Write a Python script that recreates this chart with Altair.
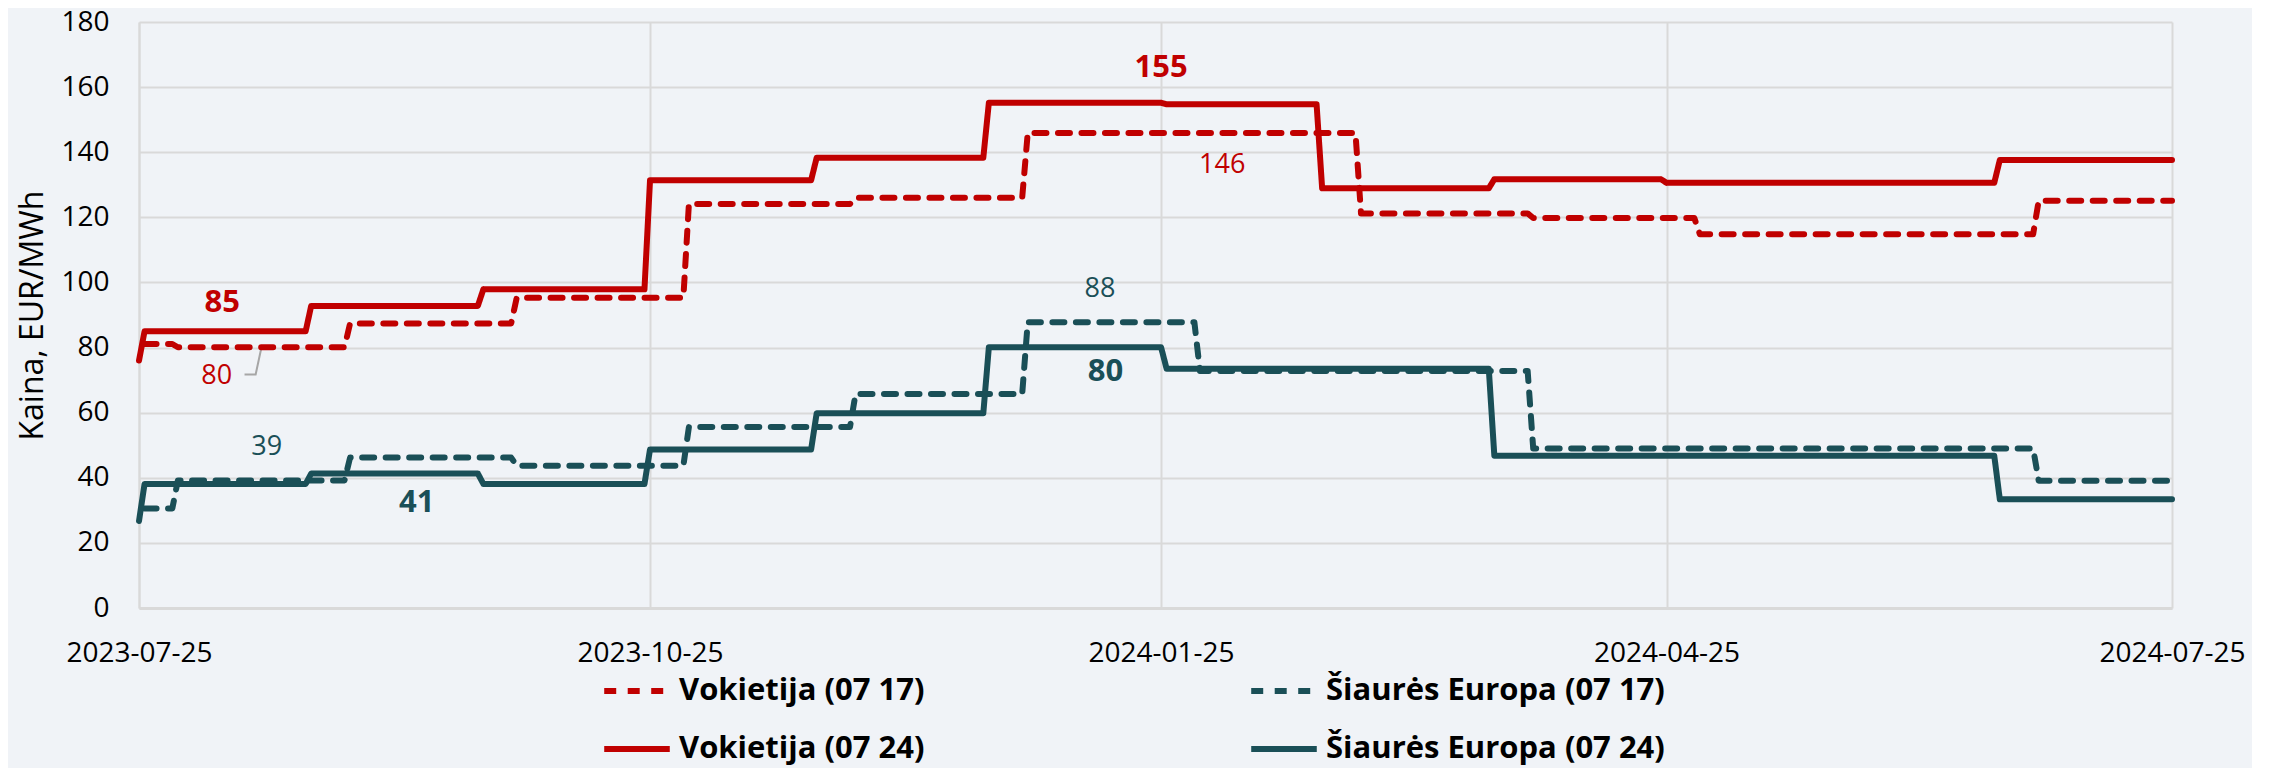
import altair as alt
import pandas as pd

RED = "#C00000"
TEAL = "#1A4F57"
GRID = "#D9D9D9"
BG = "#F0F3F7"
FONT = "Open Sans"

series_names = ["Vokietija (07 17)", "Šiaurės Europa (07 17)",
                "Vokietija (07 24)", "Šiaurės Europa (07 24)"]
series_colors = [RED, TEAL, RED, TEAL]
series_dashes = [[12, 11.5], [12, 11.5], [1, 0], [1, 0]]
legend_order = [series_names[0], series_names[2], series_names[1], series_names[3]]

# Vokietija (07 24)
de24_dates = ["2023-07-25", "2023-07-26", "2023-08-24", "2023-08-25", "2023-09-24", "2023-09-25",
              "2023-10-24", "2023-10-25", "2023-11-23", "2023-11-24", "2023-12-24", "2023-12-25",
              "2024-01-25", "2024-01-26", "2024-02-22", "2024-02-23", "2024-03-24", "2024-03-25",
              "2024-04-24", "2024-04-25", "2024-06-23", "2024-06-24", "2024-07-25"]
de24_values = [76, 85, 85, 92.8, 92.8, 97.9,
               97.9, 131.4, 131.4, 138.3, 138.3, 155.2,
               155.2, 154.7, 154.7, 128.9, 128.9, 131.7,
               131.7, 130.6, 130.6, 137.6, 137.6]

# Vokietija (07 17)
de17_dates = ["2023-07-26", "2023-07-31", "2023-08-01", "2023-08-31", "2023-09-01", "2023-09-30",
              "2023-10-01", "2023-10-31", "2023-11-01", "2023-11-30", "2023-12-01", "2023-12-31",
              "2024-01-01", "2024-02-29", "2024-03-01", "2024-03-31", "2024-04-01", "2024-04-30",
              "2024-05-01", "2024-06-30", "2024-07-01", "2024-07-25"]
de17_values = [81.1, 81.1, 80.1, 80.1, 87.4, 87.4,
               95.3, 95.3, 124.1, 124.1, 126.0, 126.0,
               145.9, 145.9, 121.2, 121.2, 119.8, 119.8,
               114.8, 114.8, 125.1, 125.1]

# Šiaurės Europa (07 24)
ne24_dates = ["2023-07-25", "2023-07-26", "2023-08-24", "2023-08-25", "2023-09-24", "2023-09-25",
              "2023-10-24", "2023-10-25", "2023-11-23", "2023-11-24", "2023-12-24", "2023-12-25",
              "2024-01-25", "2024-01-26", "2024-03-24", "2024-03-25", "2024-06-23", "2024-06-24",
              "2024-07-25"]
ne24_values = [26.7, 38.1, 38.1, 41.3, 41.3, 38.1,
               38.1, 48.7, 48.7, 59.8, 59.8, 80.1,
               80.1, 73.5, 73.5, 46.8, 46.8, 33.4,
               33.4]

# Šiaurės Europa (07 17)
ne17_dates = ["2023-07-26", "2023-07-31", "2023-08-01", "2023-08-31", "2023-09-01", "2023-09-30",
              "2023-10-01", "2023-10-31", "2023-11-01", "2023-11-30", "2023-12-01", "2023-12-31",
              "2024-01-01", "2024-01-31", "2024-02-01", "2024-03-31", "2024-04-01", "2024-06-30",
              "2024-07-01", "2024-07-25"]
ne17_values = [30.6, 30.6, 39.2, 39.2, 46.2, 46.2,
               43.7, 43.7, 55.6, 55.6, 65.7, 65.7,
               87.8, 87.8, 72.8, 72.8, 49.0, 49.0,
               39.1, 39.1]

# annotations
label_texts = ["85", "80", "39", "41", "155", "146", "88", "80"]
label_dates = ["2023-08-09", "2023-08-08", "2023-08-17", "2023-09-13",
               "2024-01-25", "2024-02-05", "2024-01-14", "2024-01-15"]
label_values = [93.7, 71.2, 49.6, 32.4, 166.0, 136.0, 97.9, 72.5]
label_colors = [RED, RED, TEAL, TEAL, RED, RED, TEAL, TEAL]
label_bold = [True, False, False, True, True, False, False, True]

leader_dates = ["2023-08-13", "2023-08-15", "2023-08-16"]
leader_values = [71.7, 71.7, 79.7]

x_ticks = [(2023, 7, 25), (2023, 10, 25), (2024, 1, 25), (2024, 4, 25), (2024, 7, 25)]
y_ticks = [0, 20, 40, 60, 80, 100, 120, 140, 160, 180]

rows = []
for name, ds, vs in [(series_names[0], de17_dates, de17_values),
                     (series_names[1], ne17_dates, ne17_values),
                     (series_names[2], de24_dates, de24_values),
                     (series_names[3], ne24_dates, ne24_values)]:
    for d, v in zip(ds, vs):
        rows.append({"series": name, "date": d, "value": v})
df = pd.DataFrame(rows)

lab = pd.DataFrame({"text": label_texts, "date": label_dates, "value": label_values,
                    "col": label_colors, "bold": label_bold})
leader = pd.DataFrame({"date": leader_dates, "value": leader_values})

def dt(t):
    return alt.DateTime(year=t[0], month=t[1], date=t[2], utc=True)

x_enc = alt.X("date:T",
              scale=alt.Scale(type="utc", domain=[dt(x_ticks[0]), dt(x_ticks[-1])]),
              axis=alt.Axis(values=[dt(t) for t in x_ticks],
                            labelExpr="utcFormat(datum.value, '%Y-%m-%d')",
                            labelFont=FONT, labelFontSize=28, labelColor="#000000",
                            labelPadding=31, ticks=False, grid=True, gridColor=GRID, gridWidth=2,
                            domainColor=GRID, domainWidth=3, labelFlush=False, labelOverlap=False),
              title=None)
y_enc = alt.Y("value:Q",
              scale=alt.Scale(domain=[0, 180], nice=False),
              axis=alt.Axis(values=y_ticks, labelFont=FONT, labelFontSize=28, labelColor="#000000",
                            labelPadding=30, ticks=False, grid=True, gridColor=GRID, gridWidth=2,
                            domainColor=GRID, domainWidth=2,
                            titleFont=FONT, titleFontSize=32, titleFontWeight="normal",
                            titleColor="#000000", titleX=-107, titleY=293, titleAngle=270,
                            titleAlign="center", titleBaseline="middle"),
              title="Kaina, EUR/MWh")

legend = alt.Legend(title=None, orient="none", legendX=462, legendY=633, columns=2,
                    values=legend_order,
                    symbolType="stroke", symbolSize=4300, symbolStrokeWidth=6,
                    labelFont=FONT, labelFontSize=31, labelFontWeight="bold", labelColor="#000000",
                    labelOffset=6, columnPadding=314, rowPadding=7, labelLimit=0)

lines = alt.Chart(df).mark_line(strokeWidth=6, strokeCap="round", strokeJoin="round").encode(
    x=x_enc, y=y_enc,
    color=alt.Color("series:N", scale=alt.Scale(domain=series_names, range=series_colors),
                    legend=legend),
    strokeDash=alt.StrokeDash("series:N", scale=alt.Scale(domain=series_names, range=series_dashes),
                              legend=legend),
    detail="series:N",
)

lead = alt.Chart(leader).mark_line(color="#A6A6A6", strokeWidth=2).encode(x=x_enc, y=y_enc)

bold_txt = alt.Chart(lab).transform_filter("datum.bold").mark_text(
    font=FONT, fontSize=31, fontWeight="bold", align="center", baseline="middle").encode(
    x=x_enc, y=y_enc, text="text:N", color=alt.Color("col:N", scale=None))
norm_txt = alt.Chart(lab).transform_filter("!datum.bold").mark_text(
    font=FONT, fontSize=27, fontWeight="normal", align="center", baseline="middle").encode(
    x=x_enc, y=y_enc, text="text:N", color=alt.Color("col:N", scale=None))

chart = alt.layer(lead, lines, bold_txt, norm_txt).properties(
    width=2033, height=586,
    autosize=alt.AutoSizeParams(type="none"),
    padding={"left": 131, "top": 14, "right": 80, "bottom": 160},
    background=BG,
).configure_view(stroke=None)

chart.save("out.html", embed_options={"renderer": "svg", "actions": False})
